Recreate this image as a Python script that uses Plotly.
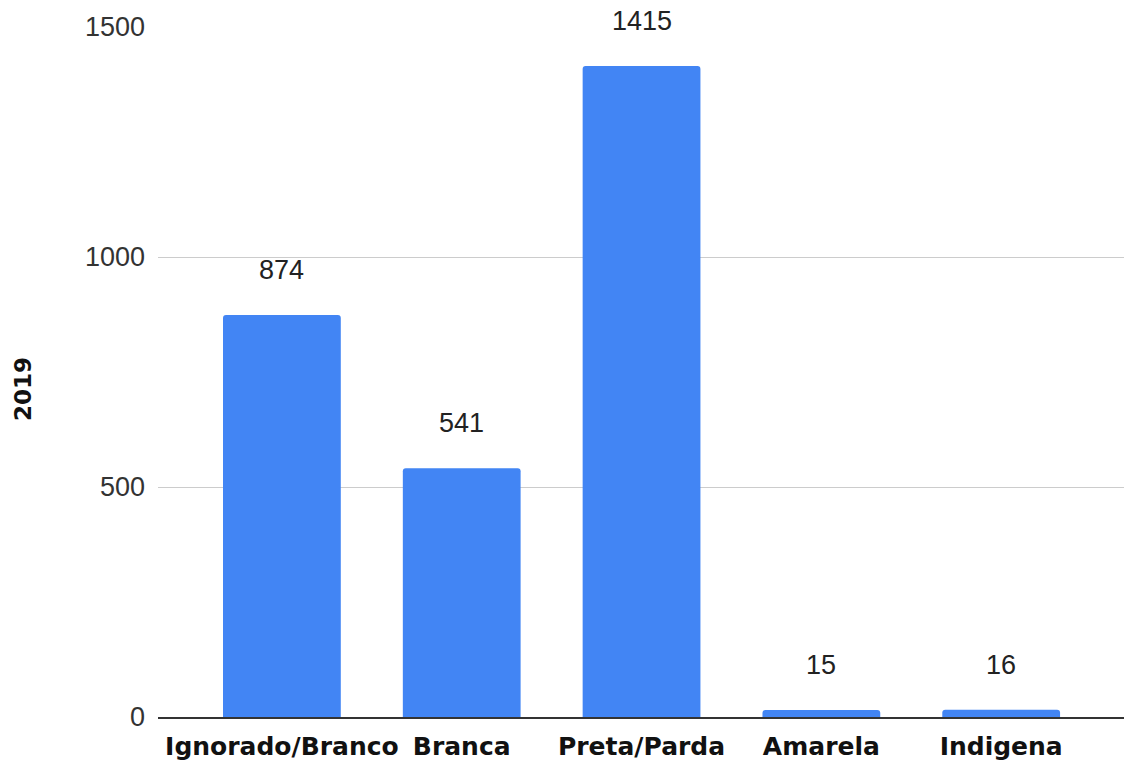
import plotly.graph_objects as go

categories = ["Ignorado/Branco", "Branca", "Preta/Parda", "Amarela", "Indigena"]
values_2019 = [874, 541, 1415, 15, 16]
y_ticks = [0, 500, 1000, 1500]
y_title = "2019"

fig = go.Figure()
fig.add_trace(go.Bar(
    x=categories, y=values_2019,
    marker=dict(color="#4285F4", line=dict(width=0)),
    width=0.655,
))

for c, v in zip(categories, values_2019):
    fig.add_annotation(x=c, y=v, text=str(v), showarrow=False,
                       yshift=45, yanchor="middle",
                       font=dict(family="Liberation Sans", size=27, color="#222222"))

# y-axis title (placed slightly below centre, as in the reference)
fig.add_annotation(text=y_title, xref="paper", yref="paper",
                   x=-0.1398, y=0.4754, xanchor="center", yanchor="middle",
                   textangle=-90, showarrow=False,
                   font=dict(family="DejaVu Sans", size=23, color="#111111", weight="bold"))

fig.update_layout(
    width=1127, height=765,
    margin=dict(l=158, r=3, t=27, b=48, autoexpand=False),
    paper_bgcolor="white", plot_bgcolor="white",
    showlegend=False,
    barcornerradius=3,
    font=dict(family="Liberation Sans", color="#222222"),
    xaxis=dict(
        range=[-0.689, 4.683],
        showgrid=False,
        showline=True, linecolor="#333333", linewidth=1.5,
        ticks="",
        tickfont=dict(family="DejaVu Sans", size=25, color="#111111", weight="bold"),
        ticklabelstandoff=6,
        automargin=False,
    ),
    yaxis=dict(
        range=[0, 1500],
        tickvals=y_ticks,
        ticktext=[str(t) for t in y_ticks],
        showgrid=True, gridcolor="#cccccc", gridwidth=1.3,
        zeroline=False,
        showline=False,
        ticks="",
        tickfont=dict(family="Liberation Sans", size=27, color="#333333"),
        ticklabelstandoff=12,
        automargin=False,
    ),
)

fig.write_html("out.html")
